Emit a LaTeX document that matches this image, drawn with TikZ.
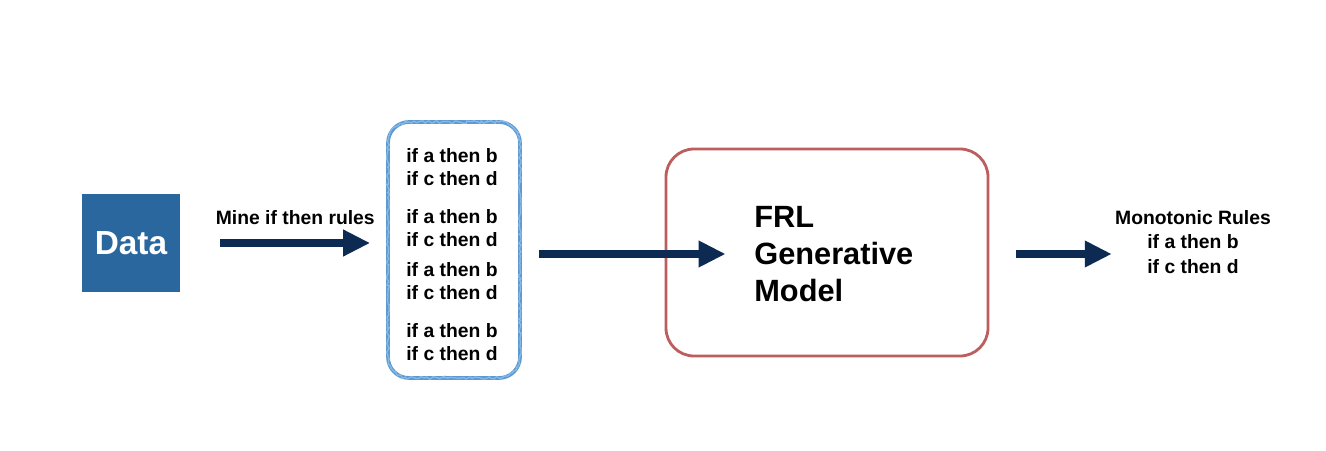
\documentclass[tikz,border=0pt]{standalone}
\usepackage{fontspec}
\setmainfont{Liberation Sans}
\usetikzlibrary{positioning,arrows.meta,decorations.pathmorphing}
\definecolor{datablue}{HTML}{2B679F}
\definecolor{navy}{HTML}{0C2A52}
\definecolor{ruleblue}{HTML}{5B9BD5}
\definecolor{frlred}{HTML}{BC5E5E}

\begin{document}
\begin{tikzpicture}[
  flow/.style={-{Triangle[length=0.54cm,width=0.5cm]},line width=4pt,navy},
  rulebox/.style={draw=ruleblue,line width=2.1pt,rounded corners=0.42cm,
    minimum width=2.64cm,minimum height=5.12cm,
    postaction={draw=ruleblue!70,line width=0.7pt,sharp corners,decorate,
      decoration={random steps,segment length=1.2pt,amplitude=0.8pt}}},
  frlbox/.style={draw=frlred,line width=1.6pt,rounded corners=0.56cm,
    minimum width=6.44cm,minimum height=4.14cm},
  rl/.style={font=\bfseries\fontsize{11}{13}\selectfont,align=center,inner sep=0pt,text=black}
]
\useasboundingbox (0,0) rectangle (26.52,9);

% --- data ---
\node[fill=datablue,minimum size=1.96cm,text=white,
  font=\bfseries\fontsize{19}{22}\selectfont] (data) at (2.62,4.14) {Data};

% --- mined rules ---
\node[rulebox] (rules) at (9.08,4.0) {};
\foreach \y [count=\i] in {5.66,4.44,3.37,2.16}
  \node[rl] (r\i) at (9.04,\y) {if a then b\\ if c then d};

\draw[flow] ([xshift=0.8cm]data.east) -- ([xshift=-0.32cm]data.east -| rules.west)
  node[midway,above=0.3cm,rl] (mine) {Mine if then rules};

% --- generative model ---
\node[frlbox] (frl) at (16.54,3.95) {};
\node[anchor=west,align=left,inner sep=0pt,
  font=\bfseries\fontsize{17.5}{21}\selectfont] (frltxt) at (15.08,3.92)
  {FRL\\ Generative\\ Model};

\draw[flow] ([xshift=0.34cm]rules.east |- frltxt.west) -- ([xshift=1.22cm]frl.west |- frltxt.west);

% --- output ---
\node[align=center,inner sep=0pt,font=\bfseries\fontsize{11}{13.9}\selectfont]
  (mono) at (23.86,4.16) {Monotonic Rules\\ if a then b\\ if c then d};

\draw[flow] ([xshift=0.54cm]frl.east |- frltxt.west) -- ([xshift=-0.06cm]frltxt.west -| mono.west);
\end{tikzpicture}
\end{document}
